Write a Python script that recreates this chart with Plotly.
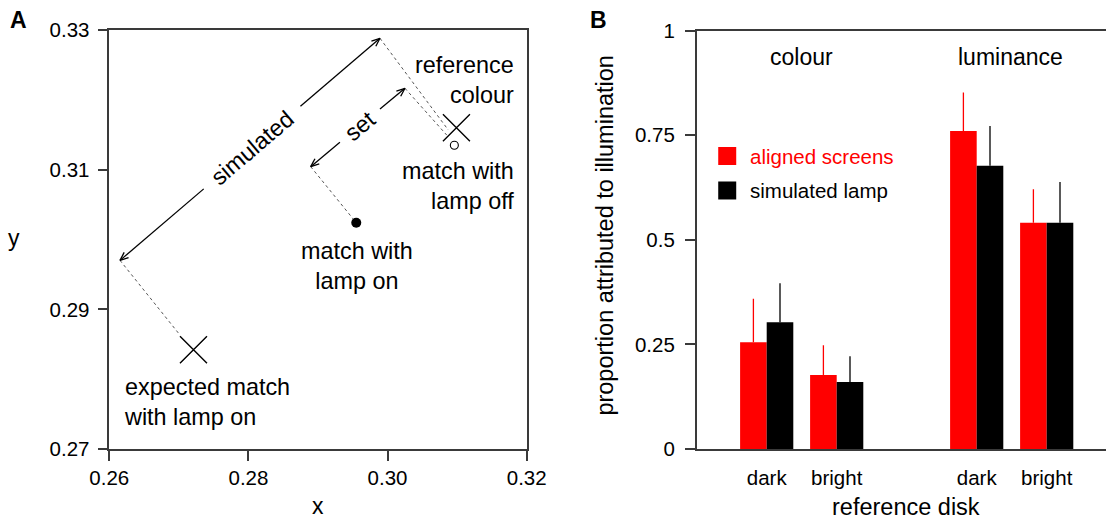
import math
import plotly.graph_objects as go

W, H = 1106, 521
FONT = "Liberation Sans, Arial, Helvetica, sans-serif"

# ---------------- Panel A data (CIE x, y) ----------------
x_ticks_A = [0.26, 0.28, 0.30, 0.32]
x_ticklabels_A = ["0.26", "0.28", "0.30", "0.32"]
y_ticks_A = [0.27, 0.29, 0.31, 0.33]
y_ticklabels_A = ["0.27", "0.29", "0.31", "0.33"]

expected_match_on = [0.2721, 0.2842]
reference_colour = [0.3099, 0.3160]
match_lamp_off = [0.3096, 0.3135]
match_lamp_on = [0.2955, 0.3024]

simulated_arrow = [[0.26154, 0.29701], [0.29891, 0.32881]]
set_arrow = [[0.28895, 0.31043], [0.30250, 0.32165]]
simulated_gap = [0.322, 0.694]
set_gap = [0.31, 0.735]

dotted_links = [
    [[0.26154, 0.29701], [0.27016, 0.28632]],
    [[0.29891, 0.32881], [0.30873, 0.31568]],
    [[0.28895, 0.31043], [0.2955, 0.3024]],
    [[0.30250, 0.32165], [0.30850, 0.31496]],
]

# ---------------- Panel B data ----------------
conditions = ["dark", "bright", "dark", "bright"]
positions = [1, 2, 4, 5]
aligned_screens = [0.255, 0.177, 0.760, 0.541]
aligned_screens_err = [0.104, 0.071, 0.092, 0.080]
simulated_lamp = [0.303, 0.160, 0.677, 0.541]
simulated_lamp_err = [0.093, 0.062, 0.095, 0.097]
y_ticks_B = [0, 0.25, 0.5, 0.75, 1]
y_ticklabels_B = ["0", "0.25", "0.5", "0.75", "1"]

RED = "#ff0000"
AX = "#3a3a3a"

# layout geometry (pixels)
A_dom_x = [109.3 / W, 526.7 / W]
A_dom_y = [1 - 449 / H, 1 - 30 / H]
A_rx = [0.26, 0.32]
A_ry = [0.27, 0.33]
B_dom_x = [696.7 / W, 1.0]
B_dom_y = [1 - 449 / H, 1 - 30.7 / H]
B_rx = [0, (W - 696.7) / 70.0]

sx = (A_dom_x[1] - A_dom_x[0]) * W / (A_rx[1] - A_rx[0])
sy = (A_dom_y[1] - A_dom_y[0]) * H / (A_ry[1] - A_ry[0])

fig = go.Figure()

# dotted connectors
dx, dy = [], []
for p, q in dotted_links:
    dx += [p[0], q[0], None]
    dy += [p[1], q[1], None]
fig.add_trace(go.Scatter(x=dx, y=dy, mode="lines", line=dict(color="#555555", width=1, dash="dot"),
                         xaxis="x", yaxis="y", showlegend=False, hoverinfo="skip"))


def arrow_xy(arrow, gap):
    (x0, y0), (x1, y1) = arrow
    xs, ys = [], []
    xa = x0 + (x1 - x0) * gap[0]
    ya = y0 + (y1 - y0) * gap[0]
    xb = x0 + (x1 - x0) * gap[1]
    yb = y0 + (y1 - y0) * gap[1]
    xs += [x0, xa, None, xb, x1, None]
    ys += [y0, ya, None, yb, y1, None]
    for (tx, ty), (ox, oy) in [((x0, y0), (x1, y1)), ((x1, y1), (x0, y0))]:
        vx = (ox - tx) * sx
        vy = (oy - ty) * sy
        L = math.hypot(vx, vy)
        ux, uy = vx / L, vy / L
        hl, ang = 9.0, math.radians(22)
        for s in (1, -1):
            c, si = math.cos(s * ang), math.sin(s * ang)
            rx = ux * c - uy * si
            ry = ux * si + uy * c
            xs += [tx + rx * hl / sx, tx, None]
            ys += [ty + ry * hl / sy, ty, None]
    return xs, ys


for arr, gap in [(simulated_arrow, simulated_gap), (set_arrow, set_gap)]:
    ax_, ay_ = arrow_xy(arr, gap)
    fig.add_trace(go.Scatter(x=ax_, y=ay_, mode="lines", line=dict(color="black", width=1.3),
                             xaxis="x", yaxis="y", showlegend=False, hoverinfo="skip"))

# markers
fig.add_trace(go.Scatter(x=[expected_match_on[0], reference_colour[0]],
                         y=[expected_match_on[1], reference_colour[1]],
                         mode="markers", marker=dict(symbol="x-thin", size=27, color="black",
                                                     line=dict(color="black", width=1.4)),
                         xaxis="x", yaxis="y", showlegend=False))
fig.add_trace(go.Scatter(x=[match_lamp_off[0]], y=[match_lamp_off[1]], mode="markers",
                         marker=dict(symbol="circle-open", size=8, color="black",
                                     line=dict(color="black", width=1.1)),
                         xaxis="x", yaxis="y", showlegend=False))
fig.add_trace(go.Scatter(x=[match_lamp_on[0]], y=[match_lamp_on[1]], mode="markers",
                         marker=dict(symbol="circle", size=10, color="black"),
                         xaxis="x", yaxis="y", showlegend=False))

# ---------- Panel B bars ----------
fig.add_trace(go.Bar(x=positions, y=aligned_screens, marker=dict(color=RED, line=dict(width=0)),
                     error_y=dict(type="data", array=aligned_screens_err, arrayminus=[0] * 4,
                                  symmetric=False, width=0, thickness=1.3, color=RED),
                     xaxis="x2", yaxis="y2", showlegend=False, name="aligned screens"))
fig.add_trace(go.Bar(x=positions, y=simulated_lamp, marker=dict(color="black", line=dict(width=0)),
                     error_y=dict(type="data", array=simulated_lamp_err, arrayminus=[0] * 4,
                                  symmetric=False, width=0, thickness=1.3, color="black"),
                     xaxis="x2", yaxis="y2", showlegend=False, name="simulated lamp"))

# legend squares
fig.add_trace(go.Scatter(x=[0.436, 0.436], y=[0.7005, 0.618], mode="markers",
                         marker=dict(symbol="square", size=18, color=[RED, "black"], line=dict(width=0)),
                         xaxis="x2", yaxis="y2", showlegend=False, hoverinfo="skip", cliponaxis=False))

tickfont = dict(family=FONT, size=20.5, color="black")
axis_common = dict(showgrid=False, zeroline=False, showline=True, linecolor=AX, linewidth=1.5,
                   tickfont=tickfont, ticklen=10, tickwidth=1.5, tickcolor=AX, automargin=False)

fig.update_layout(
    width=W, height=H, margin=dict(l=0, r=0, t=0, b=0, pad=0),
    paper_bgcolor="white", plot_bgcolor="white",
    font=dict(family=FONT, size=20, color="black"),
    bargap=0.24, bargroupgap=0, barmode="group",
    xaxis=dict(domain=A_dom_x, range=A_rx, tickvals=x_ticks_A, ticktext=x_ticklabels_A,
               ticks="outside", mirror=True, anchor="y", **axis_common),
    yaxis=dict(domain=A_dom_y, range=A_ry, tickvals=y_ticks_A, ticktext=y_ticklabels_A,
               ticks="outside", mirror=True, anchor="x", ticklabelstandoff=4, **axis_common),
    xaxis2=dict(domain=B_dom_x, range=B_rx, tickvals=positions, ticktext=conditions,
                ticks="", mirror=True, anchor="y2", ticklabelstandoff=10, **axis_common),
    yaxis2=dict(domain=B_dom_y, range=[0, 1], tickvals=y_ticks_B, ticktext=y_ticklabels_B,
                ticks="outside", mirror=False, anchor="x2", ticklabelstandoff=6, **axis_common),
)


def P(px, py):
    return px / W, 1 - py / H


annots = []


def add_text(text, px, py, size=23.4, xanchor="center", align="center", angle=0, color="black", bold=False):
    x, y = P(px, py)
    if bold:
        text = "<b>" + text + "</b>"
    annots.append(dict(text=text, x=x, y=y, xref="paper", yref="paper", xanchor=xanchor,
                       yanchor="middle", align=align, textangle=angle, showarrow=False,
                       font=dict(family=FONT, size=size, color=color)))


# Panel A text
add_text("A", 18, 20, size=23, bold=True)
add_text("x", 317.6, 506, size=23)
add_text("y", 14.2, 238, size=23)
add_text("reference<br>colour", 516, 80.5, xanchor="right", align="right")
add_text("match with<br>lamp off", 516, 185.5, xanchor="right", align="right")
add_text("match with<br>lamp on", 356.5, 265.8)
add_text("expected match<br>with lamp on", 121.8, 401.8, xanchor="left", align="left")


def on_arrow(arrow, t):
    (x0, y0), (x1, y1) = arrow
    return x0 + (x1 - x0) * t, y0 + (y1 - y0) * t


for arr, gap, label in [(simulated_arrow, simulated_gap, "simulated"), (set_arrow, set_gap, "set")]:
    t = (gap[0] + gap[1]) / 2
    tx, ty = on_arrow(arr, t)
    (x0, y0), (x1, y1) = arr
    ang = math.degrees(math.atan2((y1 - y0) * sy, (x1 - x0) * sx))
    annots.append(dict(text=label, x=tx, y=ty, xref="x", yref="y", showarrow=False,
                       textangle=-ang, xanchor="center", yanchor="middle",
                       font=dict(family=FONT, size=23.4, color="black")))

# Panel B text
add_text("B", 598, 20, size=23, bold=True)
add_text("colour", 801.3, 57, size=23)
add_text("luminance", 1010.9, 57, size=23)
add_text("proportion attributed to illumination", 604.6, 235, size=23.5, angle=-90)
add_text("reference disk", 906.4, 507, size=23.5)
add_text("aligned screens", 747.7, 156.5, size=20.5, xanchor="left", color=RED)
add_text("simulated lamp", 747.7, 191, size=20.5, xanchor="left")

fig.update_layout(annotations=annots)
fig.write_html("out.html", config={"displayModeBar": False},
               post_script="document.body.style.margin='0';document.body.style.overflow='hidden';")
